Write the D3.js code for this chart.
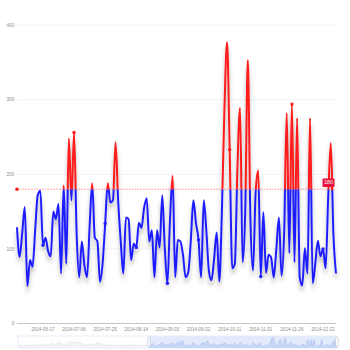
<!DOCTYPE html>
<html><head><meta charset="utf-8">
<script src="https://cdn.jsdelivr.net/npm/d3@7"></script>
<style>html,body{margin:0;padding:0;background:#fff;} svg{display:block;font-family:"Liberation Sans",Arial,sans-serif;}</style>
</head><body><svg id="c" width="350" height="350"></svg>
<script>
const dates = ["2014-06-01","2014-06-02","2014-06-04","2014-06-05","2014-06-07","2014-06-08","2014-06-10","2014-06-12","2014-06-13","2014-06-15",
"2014-06-17","2014-06-19","2014-06-20","2014-06-22","2014-06-23","2014-06-25","2014-06-26","2014-06-28","2014-06-29","2014-07-01",
"2014-07-02","2014-07-04","2014-07-06","2014-07-08","2014-07-09","2014-07-11","2014-07-12","2014-07-14","2014-07-15","2014-07-17",
"2014-07-18","2014-07-20","2014-07-21","2014-07-23","2014-07-25","2014-07-27","2014-07-28","2014-07-30","2014-08-01","2014-08-02",
"2014-08-04","2014-08-05","2014-08-07","2014-08-09","2014-08-10","2014-08-12","2014-08-14","2014-08-16","2014-08-17","2014-08-19",
"2014-08-21","2014-08-22","2014-08-24","2014-08-25","2014-08-27","2014-08-29","2014-08-30","2014-09-01","2014-09-03","2014-09-05",
"2014-09-06","2014-09-08","2014-09-09","2014-09-11","2014-09-12","2014-09-14","2014-09-15","2014-09-17","2014-09-18","2014-09-20",
"2014-09-22","2014-09-24","2014-09-25","2014-09-27","2014-09-28","2014-09-30","2014-10-01","2014-10-03","2014-10-04","2014-10-06",
"2014-10-07","2014-10-09","2014-10-11","2014-10-13","2014-10-14","2014-10-16","2014-10-18","2014-10-19","2014-10-21","2014-10-23",
"2014-10-24","2014-10-26","2014-10-28","2014-10-30","2014-11-01","2014-11-03","2014-11-05","2014-11-07","2014-11-09","2014-11-11",
"2014-11-13","2014-11-15","2014-11-17","2014-11-19","2014-11-21","2014-11-23","2014-11-26","2014-11-28","2014-11-30","2014-12-02",
"2014-12-04","2014-12-06","2014-12-08","2014-12-10","2014-12-12","2014-12-14","2014-12-16","2014-12-19","2014-12-22","2014-12-24",
"2014-12-26","2014-12-28","2014-12-29","2014-12-31"];

const values = [129,89,121,156,50,85,76,125,172,178,
105,115,97,90,150,140,160,67,185,80,
248,165,256,120,62,110,78,62,130,188,
115,110,56,80,134,188,162,165,243,165,
110,67,142,140,85,107,102,135,128,155,
168,110,125,62,125,102,172,100,54,140,
198,62,112,110,92,62,68,110,165,135,
112,62,165,125,70,58,87,122,56,150,
290,377,233,74,80,210,289,82,150,353,
140,71,175,205,63,149,68,92,88,62,
100,142,64,120,282,94,294,82,275,62,
51,101,67,275,54,80,111,90,100,74,
170,242,120,67];

// earlier (pre-window) data as seen in the slider's data shadow
const earlyValues = [80,95,70,110,90,120,85,100,130,95,110,150,120,190,140,100,170,230,150,210,180,120,100,130,110,150,170,120,100,90,110,95,80,100,85,90,110,95,80,100,90,85,95];

const yTicks = [0,100,200,300,400];
const xTickLabels = ["2014-06-17","2014-07-06","2014-07-25","2014-08-14","2014-09-03","2014-09-22","2014-10-11","2014-11-01","2014-11-26","2014-12-22"];
const threshold = 180;

const svg = d3.select("#c");
const L = 17, R = 336, T = 25, B = 323.5;
const x = d3.scalePoint().domain(dates).range([L, R]);
const y = d3.scaleLinear().domain([0, 400]).range([B, T]);
const HIGH = "#ff1a1a", LOW = "#1f1fff";

const defs = svg.append("defs");
const f = defs.append("filter").attr("id","sh").attr("x","-10%").attr("y","-10%").attr("width","120%").attr("height","130%");
f.append("feDropShadow").attr("dx",0).attr("dy",5).attr("stdDeviation",2.2).attr("flood-color","#000").attr("flood-opacity",0.28);
defs.append("clipPath").attr("id","above").append("rect").attr("x",0).attr("y",0).attr("width",350).attr("height",y(threshold));
defs.append("clipPath").attr("id","below").append("rect").attr("x",0).attr("y",y(threshold)).attr("width",350).attr("height",350);

// grid
svg.append("g").selectAll("line").data(yTicks.filter(d=>d>0)).join("line")
  .attr("x1",L).attr("x2",R).attr("y1",d=>y(d)).attr("y2",d=>y(d))
  .attr("stroke","#ededf3").attr("stroke-width",0.8);
svg.append("line").attr("x1",L).attr("x2",R).attr("y1",y(0)).attr("y2",y(0)).attr("stroke","#c6c6c6").attr("stroke-width",1.2);

// y labels
svg.append("g").selectAll("text").data(yTicks).join("text")
  .attr("x",14.3).attr("y",d=>y(d)).attr("dy","0.35em").attr("text-anchor","end")
  .attr("font-size",4.7).attr("fill","#8c8c8c").text(d=>d);

// x labels
svg.append("g").selectAll("text").data(xTickLabels).join("text")
  .attr("x",d=>x(d)).attr("y",331).attr("text-anchor","middle")
  .attr("font-size",4.6).attr("fill","#8c8c8c").text(d=>d);

// line
const pts = dates.map((d,i)=>({d, v: values[i]}));
const line = d3.line().x(p=>x(p.d)).y(p=>y(p.v)).curve(d3.curveMonotoneX);
const lg = svg.append("g").attr("filter","url(#sh)");
lg.append("path").attr("d",line(pts)).attr("fill","none").attr("stroke",HIGH).attr("stroke-width",2).attr("clip-path","url(#above)");
lg.append("path").attr("d",line(pts)).attr("fill","none").attr("stroke",LOW).attr("stroke-width",2).attr("clip-path","url(#below)");

// symbols at labelled categories
svg.append("g").selectAll("circle").data(pts.filter(p=>xTickLabels.includes(p.d))).join("circle")
  .attr("cx",p=>x(p.d)).attr("cy",p=>y(p.v)).attr("r",1.7)
  .attr("fill",p=>p.v>threshold?HIGH:LOW);

// mark line at threshold
const my = y(threshold);
svg.append("line").attr("x1",L).attr("x2",R-3).attr("y1",my).attr("y2",my)
  .attr("stroke","#ff3b3b").attr("stroke-opacity",0.7).attr("stroke-width",0.8).attr("stroke-dasharray","1.6,1.2");
svg.append("circle").attr("cx",L).attr("cy",my).attr("r",1.8).attr("fill","#ff1a1a");
svg.append("path").attr("d",`M${R-5},${my-1.6}L${R-2},${my}L${R-5},${my+1.6}Z`).attr("fill","#ff1a1a");
svg.append("rect").attr("x",322.5).attr("y",my-10.8).attr("width",12).attr("height",8.6).attr("rx",1).attr("fill","#e8123c");
svg.append("text").attr("x",328.5).attr("y",my-6.5).attr("dy","0.35em").attr("text-anchor","middle")
  .attr("font-size",5.2).attr("fill","#fff").text(threshold);

// slider (dataZoom)
const sL = 18, sR = 337, sT = 336, sB = 348;
const selL = 149;
const ys = d3.scaleLinear().domain([0, d3.max(values.concat(earlyValues))]).range([sB, sT+1]);
const xe = d3.scaleLinear().domain([0, earlyValues.length-1]).range([sL, selL]);
const xs = d3.scalePoint().domain(dates).range([selL, sR]);
svg.append("rect").attr("x",sL).attr("y",sT).attr("width",sR-sL).attr("height",sB-sT).attr("fill","none").attr("stroke","#d6e0f3").attr("stroke-width",0.6);
const areaE = d3.area().x((v,i)=>xe(i)).y0(sB).y1(v=>ys(v)).curve(d3.curveMonotoneX);
const lineE = d3.line().x((v,i)=>xe(i)).y(v=>ys(v)).curve(d3.curveMonotoneX);
svg.append("path").attr("d",areaE(earlyValues)).attr("fill","#f3f4f7");
svg.append("path").attr("d",lineE(earlyValues)).attr("fill","none").attr("stroke","#d4d8e2").attr("stroke-width",0.5);
svg.append("rect").attr("x",selL).attr("y",sT).attr("width",sR-selL).attr("height",sB-sT).attr("fill","#e3eafb");
const areaS = d3.area().x(p=>xs(p.d)).y0(sB).y1(p=>ys(p.v)).curve(d3.curveMonotoneX);
const lineS = d3.line().x(p=>xs(p.d)).y(p=>ys(p.v)).curve(d3.curveMonotoneX);
svg.append("path").attr("d",areaS(pts)).attr("fill","#c9d7f7");
svg.append("path").attr("d",lineS(pts)).attr("fill","none").attr("stroke","#9db7ef").attr("stroke-width",0.5);
[selL, sR].forEach(hx=>{
  svg.append("rect").attr("x",hx-1.3).attr("y",sT+1.5).attr("width",2.6).attr("height",sB-sT-3).attr("rx",1)
    .attr("fill","#fff").attr("stroke","#a7b0c2").attr("stroke-width",0.5);
});
</script></body></html>
